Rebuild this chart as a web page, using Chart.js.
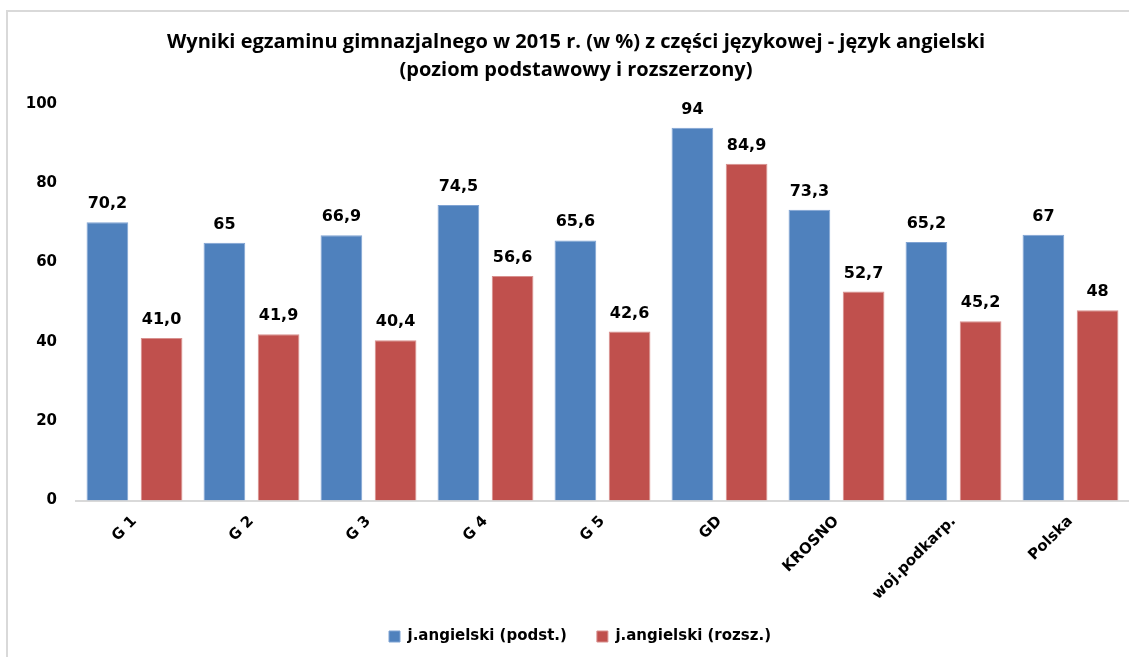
<!DOCTYPE html>
<html>
<head>
<meta charset="utf-8">
<script src="https://cdn.jsdelivr.net/npm/chart.js@4"></script>
<style>
  body { margin: 0; background: #fff; overflow: hidden; }
  #wrap { position: relative; width: 1129px; height: 657px; }
  #frame { position: absolute; left: 6px; top: 10px; right: 0; bottom: 0; border-top: 2px solid #d9d9d9; border-left: 2px solid #d9d9d9; pointer-events: none; }
</style>
</head>
<body>
<div id="wrap">
  <canvas id="chart"></canvas>
  <div id="frame"></div>
</div>
<script>
// dane z wykresu
const categories = ['G 1', 'G 2', 'G 3', 'G 4', 'G 5', 'GD', 'KROSNO', 'woj.podkarp.', 'Polska'];
const podstValues = [70.2, 65, 66.9, 74.5, 65.6, 94, 73.3, 65.2, 67];
const rozszValues = [41.0, 41.9, 40.4, 56.6, 42.6, 84.9, 52.7, 45.2, 48];
// etykiety jak na oryginale (raz z ",0", raz bez)
const podstLabels = ['70,2', '65', '66,9', '74,5', '65,6', '94', '73,3', '65,2', '67'];
const rozszLabels = ['41,0', '41,9', '40,4', '56,6', '42,6', '84,9', '52,7', '45,2', '48'];
const yTicks = [0, 20, 40, 60, 80, 100];

const FONT = "'DejaVu Sans', sans-serif";

// etykiety wartosci nad slupkami + drobne poprawki ukladu
const valueLabels = {
  id: 'valueLabels',
  afterLayout(chart) {
    // tytul i legenda w oryginale sa troche przesuniete w prawo
    chart.titleBlock.left += 23;
    chart.legend.left += 31;
    // zeby dlugie etykiety osi X nie byly obcinane
    chart.scales.x.bottom = chart.height;
  },
  afterDatasetsDraw(chart) {
    const ctx = chart.ctx;
    const texts = [podstLabels, rozszLabels];
    ctx.save();
    ctx.font = "bold 16px " + FONT;
    ctx.fillStyle = '#000';
    ctx.textAlign = 'center';
    ctx.textBaseline = 'alphabetic';
    chart.data.datasets.forEach((ds, i) => {
      chart.getDatasetMeta(i).data.forEach((bar, j) => {
        ctx.fillText(texts[i][j], bar.x, bar.y - 14);
      });
    });
    ctx.restore();
  }
};

let ctx = document.getElementById('chart');
let chart = new Chart(ctx, {
  type: 'bar',
  data: {
    labels: categories,
    datasets: [{
      label: 'j.angielski (podst.)',
      data: podstValues,
      backgroundColor: '#4F81BD',
      borderColor: '#7FA3D3',
      borderWidth: 1,
      borderSkipped: 'bottom',
      categoryPercentage: 0.926,
      barPercentage: 0.77
    }, {
      label: 'j.angielski (rozsz.)',
      data: rozszValues,
      backgroundColor: '#C0504D',
      borderColor: '#D8908E',
      borderWidth: 1,
      borderSkipped: 'bottom',
      categoryPercentage: 0.926,
      barPercentage: 0.77
    }]
  },
  options: {
    responsive: true,
    maintainAspectRatio: false,
    animation: false,
    layout: { padding: { bottom: 3 } },
    plugins: {
      title: {
        display: true,
        text: ['Wyniki egzaminu gimnazjalnego w 2015 r. (w %) z części językowej - język angielski',
               '(poziom podstawowy i rozszerzony)'],
        color: '#000',
        font: { family: "'Open Sans', sans-serif", size: 20, weight: 'bold', lineHeight: 1.4 },
        padding: { top: 28, bottom: 20 }
      },
      legend: {
        position: 'bottom',
        labels: {
          color: '#000',
          font: { family: FONT, size: 15, weight: 'bold' },
          boxWidth: 11,
          boxHeight: 11,
          padding: 30
        }
      },
      tooltip: { enabled: false }
    },
    scales: {
      x: {
        grid: { display: false, drawTicks: false },
        border: { display: true, color: '#d9d9d9', width: 2 },
        ticks: {
          color: '#000',
          font: { family: FONT, size: 15, weight: 'bold' },
          minRotation: 45,
          maxRotation: 45,
          autoSkip: false,
          padding: 12
        },
        afterFit(scale) { scale.height = 98.5; }
      },
      y: {
        min: 0,
        max: 100,
        grid: { display: false, drawTicks: false },
        border: { display: false },
        afterBuildTicks(scale) { scale.ticks = yTicks.map(v => ({ value: v })); },
        ticks: {
          color: '#000',
          font: { family: FONT, size: 15, weight: 'bold' },
          padding: 19
        },
        afterFit(scale) { scale.width = 76; }
      }
    }
  },
  plugins: [valueLabels]
});
</script>
</body>
</html>
